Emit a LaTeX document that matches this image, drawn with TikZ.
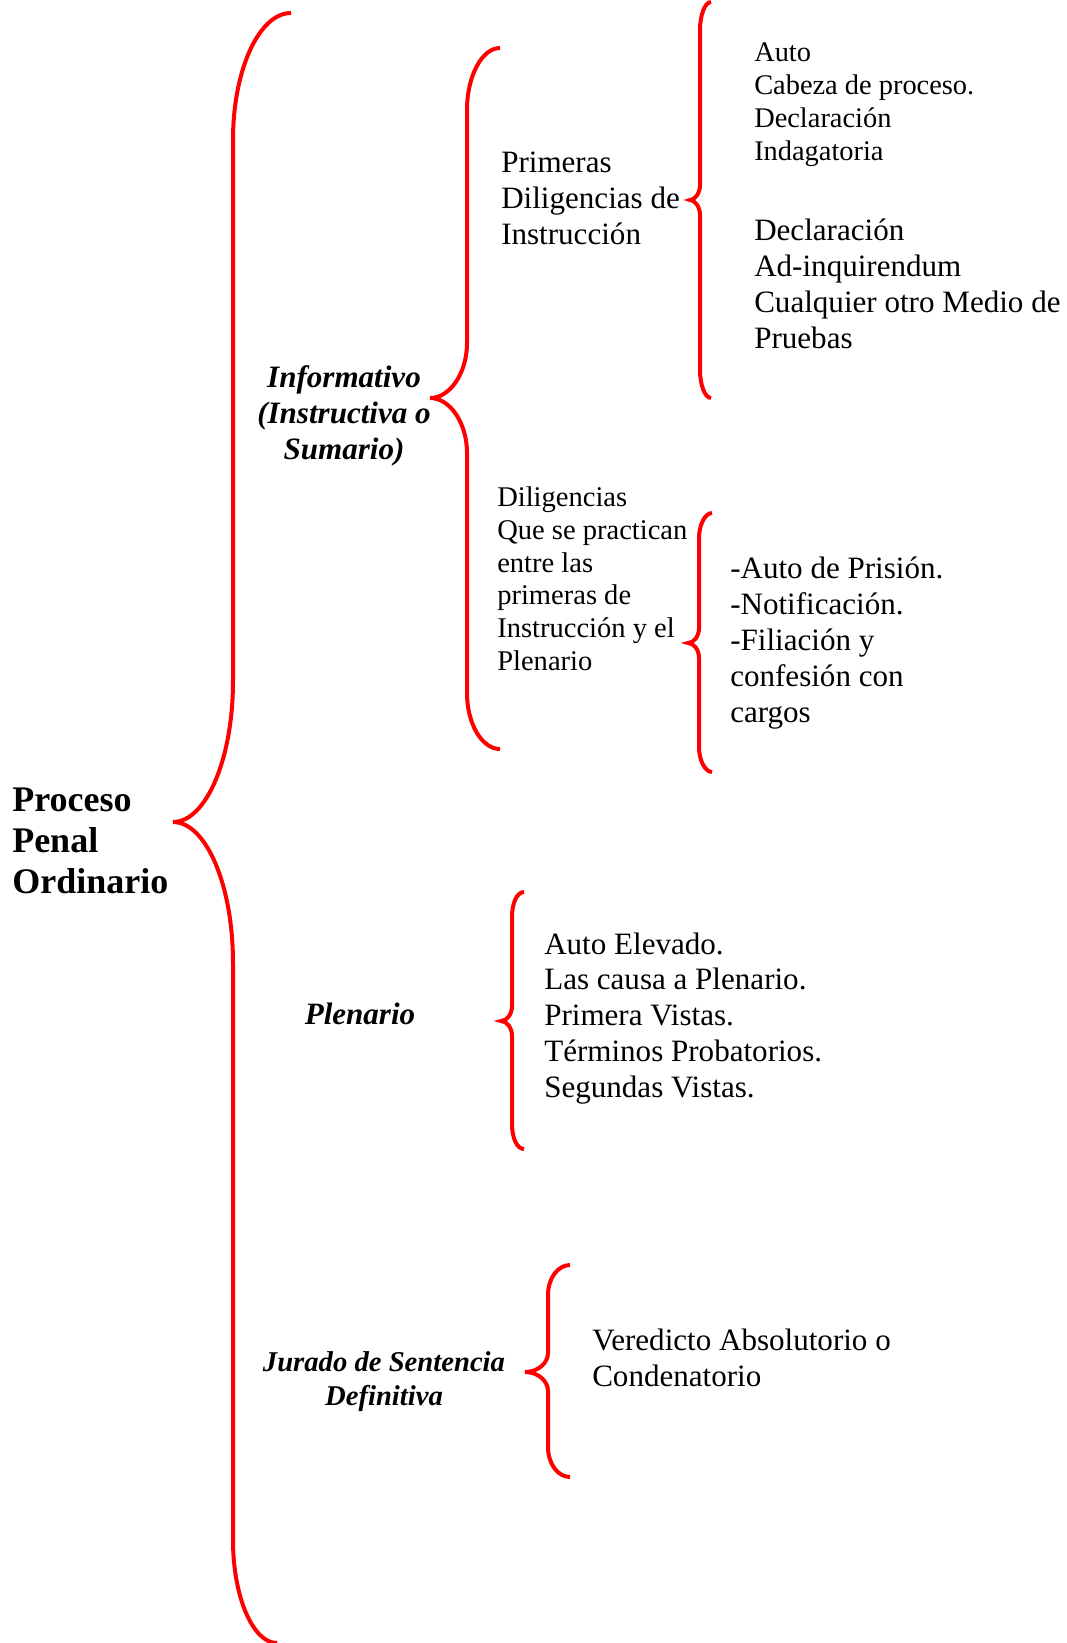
\documentclass[tikz,border=0pt]{standalone}
\usepackage{fontspec}
\setmainfont{Liberation Serif}
\usepackage{tikz}

\begin{document}
\begin{tikzpicture}[x=0.75pt,y=-0.75pt,
                    llave/.style={draw=red,line width=3pt},
                    texto/.style={anchor=base west,inner sep=0pt,align=left,
                                  font=\fontsize{23.3}{27}\selectfont},
                    etapa/.style={anchor=base,inner sep=0pt,align=center,
                                  font=\fontsize{23.3}{27}\selectfont\bfseries\itshape}]
  \useasboundingbox (0,0) rectangle (1067,1643);

  % las posiciones dan la linea base de la ultima linea
  \node[texto,font=\fontsize{27}{30.75}\selectfont\bfseries] (raiz) at (12,893) {Proceso\\Penal\\Ordinario};

  \node[etapa] (informativo) at (344,459) {Informativo\\(Instructiva o\\Sumario)};
  \node[etapa] (plenario)    at (360,1024) {Plenario};
  \node[etapa,font=\fontsize{21.5}{25.5}\selectfont\bfseries\itshape] (jurado) at (384,1405) {Jurado de Sentencia\\Definitiva};

  \node[texto] (primeras) at (501,244) {Primeras\\Diligencias de\\Instrucci\'on};
  \node[texto,font=\fontsize{21.4}{24.5}\selectfont] (diligencias) at (497,670)
       {Diligencias\\Que se practican\\entre las\\primeras de\\Instrucci\'on y el\\Plenario};

  \node[texto,font=\fontsize{21.3}{24.75}\selectfont] (auto) at (754,160)
       {Auto\\Cabeza de proceso.\\Declaraci\'on\\Indagatoria};
  \node[texto] (declaracion) at (754,348)
       {Declaraci\'on\\Ad-inquirendum\\Cualquier otro Medio de\\Pruebas};
  \node[texto] (prision) at (730,722)
       {-Auto de Prisi\'on.\\-Notificaci\'on.\\-Filiaci\'on y\\confesi\'on con\\cargos};
  \node[texto,font=\fontsize{23.3}{26.8}\selectfont] (vistas) at (544,1097)
       {Auto Elevado.\\Las causa a Plenario.\\Primera Vistas.\\T\'erminos Probatorios.\\Segundas Vistas.};
  \node[texto] (veredicto) at (592,1386) {Veredicto Absolutorio o\\Condenatorio};

  % llave principal
  \draw[llave] (291,13) .. controls (259,13) and (233,70) .. (233,140)
        -- (233,681) .. controls (233,759) and (206,822) .. (173,822)
        .. controls (206,822) and (233,885) .. (233,963)
        -- (233,1540) .. controls (233,1597) and (253,1643) .. (277,1643);

  \draw[llave] (500,48) .. controls (482,48) and (467,76) .. (467,110)
        -- (467,343) .. controls (467,373) and (450,398) .. (430,398)
        .. controls (450,398) and (467,423) .. (467,453)
        -- (467,693) .. controls (467,724) and (482,749) .. (500,749);

  \draw[llave] (711,2) .. controls (705,2) and (700,15) .. (700,30)
        -- (700,185) .. controls (700,193) and (695,200) .. (690,200)
        .. controls (695,200) and (700,207) .. (700,215)
        -- (700,370) .. controls (700,385) and (705,398) .. (711,398);

  \draw[llave] (712,513) .. controls (705,513) and (699,525) .. (699,538)
        -- (699,628) .. controls (699,636) and (694,643) .. (688,643)
        .. controls (694,643) and (699,650) .. (699,658)
        -- (699,747) .. controls (699,760) and (705,772) .. (712,772);

  \draw[llave] (524,892) .. controls (517,892) and (512,903) .. (512,917)
        -- (512,1006) .. controls (512,1014) and (507,1021) .. (501,1021)
        .. controls (507,1021) and (512,1028) .. (512,1036)
        -- (512,1124) .. controls (512,1138) and (517,1149) .. (524,1149);

  \draw[llave] (570,1265) .. controls (558,1265) and (548,1278) .. (548,1295)
        -- (548,1353) .. controls (548,1363) and (538,1372) .. (525,1372)
        .. controls (538,1372) and (548,1381) .. (548,1391)
        -- (548,1447) .. controls (548,1464) and (558,1477) .. (570,1477);
\end{tikzpicture}
\end{document}
